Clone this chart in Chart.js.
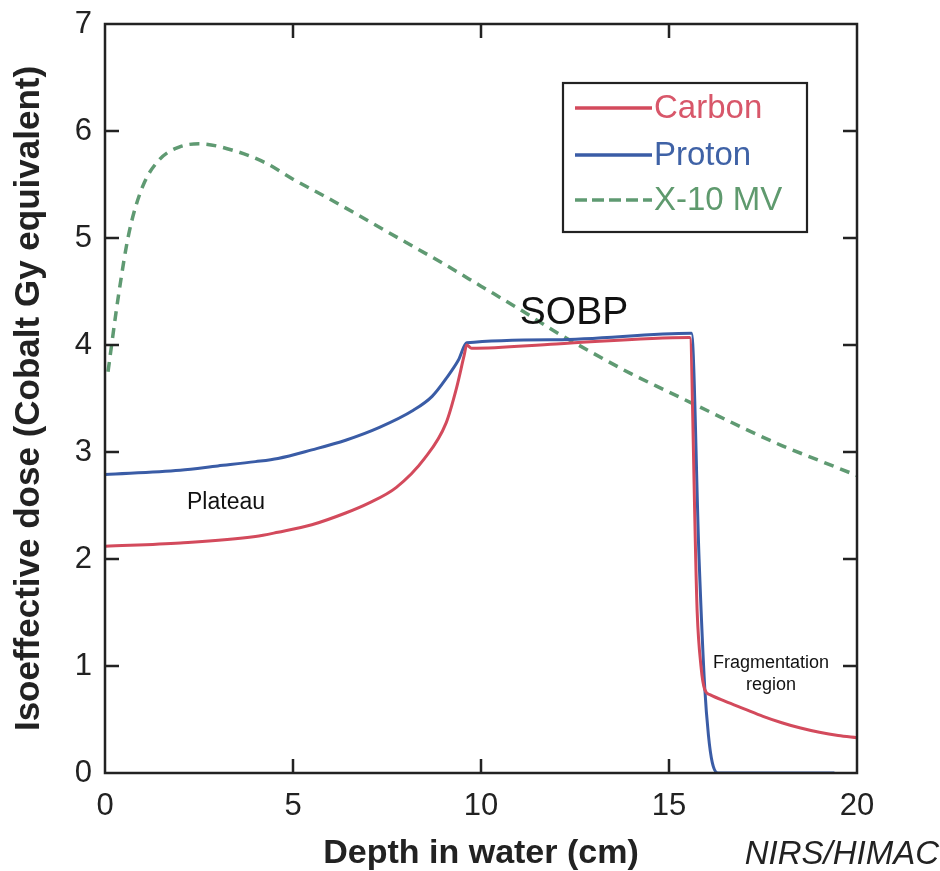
<!DOCTYPE html>
<html>
<head>
<meta charset="utf-8">
<script src="https://cdn.jsdelivr.net/npm/chart.js@4/dist/chart.umd.min.js"></script>
<style>
  html, body { margin: 0; padding: 0; background: #fff; }
  #wrap { width: 940px; height: 871px; position: relative; }
</style>
</head>
<body>
<div id="wrap"><canvas id="c" width="940" height="871"></canvas></div>
<script>
// Depth-dose profiles (depth in cm, dose in cobalt Gy equivalent)
const carbonDepth = [0, 2, 4, 4.6, 5.5, 6.4, 7, 7.75, 8.5, 9.07, 9.35, 9.55, 9.62, 9.75, 12, 15.55, 15.75, 15.85, 15.95, 16.1, 16.5, 17, 17.5, 18, 18.5, 19, 19.5, 20];
const carbonDose  = [2.12, 2.15, 2.21, 2.25, 2.32, 2.43, 2.52, 2.67, 2.94, 3.27, 3.6, 3.9, 4.0, 3.97, 4.01, 4.07, 1.5, 1.0, 0.78, 0.73, 0.67, 0.6, 0.53, 0.47, 0.42, 0.38, 0.35, 0.33];

const protonDepth = [0, 2, 3, 4, 4.6, 5.5, 6.4, 7.3, 8.2, 8.7, 9.1, 9.4, 9.62, 12, 15.6, 15.8, 15.95, 16.05, 16.15, 16.3, 19.4];
const protonDose  = [2.79, 2.83, 2.87, 2.91, 2.94, 3.02, 3.11, 3.23, 3.39, 3.52, 3.7, 3.86, 4.02, 4.05, 4.11, 2.0, 0.8, 0.35, 0.1, 0.0, 0.0];

const xrayDepth = [0.08, 0.37, 0.64, 1.0, 1.44, 1.97, 2.5, 3.4, 4.28, 5, 6, 7, 8, 9, 10, 11, 12, 13, 14, 15, 16, 17, 18, 19, 20];
const xrayDose  = [3.75, 4.49, 5.05, 5.48, 5.73, 5.85, 5.88, 5.82, 5.7, 5.55, 5.36, 5.16, 4.96, 4.76, 4.55, 4.34, 4.12, 3.92, 3.73, 3.56, 3.39, 3.22, 3.06, 2.92, 2.78];

const seriesNames = ['Carbon', 'Proton', 'X-10 MV'];
const xTicks = [0, 5, 10, 15, 20];
const yTicks = [0, 1, 2, 3, 4, 5, 6, 7];

const pts = (xs, ys) => xs.map((x, i) => ({ x, y: ys[i] }));

const FONT = '"Liberation Sans", Arial, Helvetica, sans-serif';
const INK = '#222';

// Frame, inward ticks, legend box and annotations
const decor = {
  id: 'decor',
  afterDatasetsDraw(chart) {
    const { ctx, chartArea: a, scales: { x, y } } = chart;
    ctx.save();
    ctx.strokeStyle = INK;
    ctx.lineWidth = 2.5;
    ctx.strokeRect(a.left, a.top, a.right - a.left, a.bottom - a.top);
    const len = 14;
    ctx.beginPath();
    xTicks.slice(1, -1).forEach(v => {
      const px = x.getPixelForValue(v);
      ctx.moveTo(px, a.bottom); ctx.lineTo(px, a.bottom - len);
      ctx.moveTo(px, a.top); ctx.lineTo(px, a.top + len);
    });
    yTicks.slice(1, -1).forEach(v => {
      const py = y.getPixelForValue(v);
      ctx.moveTo(a.left, py); ctx.lineTo(a.left + len, py);
      ctx.moveTo(a.right, py); ctx.lineTo(a.right - len, py);
    });
    ctx.stroke();

    // legend
    const lx = 563, ly = 83, lw = 244, lh = 149;
    ctx.fillStyle = '#fff';
    ctx.fillRect(lx, ly, lw, lh);
    ctx.lineWidth = 2.2;
    ctx.strokeStyle = INK;
    ctx.strokeRect(lx, ly, lw, lh);
    const rows = [108, 155, 200];
    chart.data.datasets.forEach((ds, i) => {
      const ry = rows[i];
      ctx.beginPath();
      ctx.strokeStyle = ds.borderColor;
      ctx.lineWidth = 3.5;
      ctx.setLineDash(ds.borderDash && ds.borderDash.length ? [12, 5] : []);
      ctx.moveTo(575, ry); ctx.lineTo(652, ry);
      ctx.stroke();
      ctx.setLineDash([]);
      ctx.fillStyle = ds.labelColor;
      ctx.font = '33px ' + FONT;
      ctx.textAlign = 'left';
      ctx.textBaseline = 'middle';
      ctx.fillText(ds.label, 654, ry + 1);
    });

    // annotations
    ctx.fillStyle = '#111';
    ctx.textAlign = 'center';
    ctx.textBaseline = 'middle';
    ctx.font = '39px ' + FONT;
    ctx.fillText('SOBP', 574, 313);
    ctx.font = '23px ' + FONT;
    ctx.fillText('Plateau', 226, 503);
    ctx.font = '18px ' + FONT;
    ctx.fillText('Fragmentation', 771, 663);
    ctx.fillText('region', 771, 685);
    ctx.font = 'italic 33px ' + FONT;
    ctx.textAlign = 'right';
    ctx.fillStyle = '#222';
    ctx.fillText('NIRS/HIMAC', 939, 855);
    ctx.restore();
  }
};

new Chart(document.getElementById('c'), {
  type: 'line',
  data: {
    datasets: [
      { label: seriesNames[0], data: pts(carbonDepth, carbonDose), borderColor: '#d34a5c', labelColor: '#d8576a', borderWidth: 3, cubicInterpolationMode: 'monotone' },
      { label: seriesNames[1], data: pts(protonDepth, protonDose), borderColor: '#3a5ca6', labelColor: '#3f62a6', borderWidth: 3, cubicInterpolationMode: 'monotone' },
      { label: seriesNames[2], data: pts(xrayDepth, xrayDose), borderColor: '#5f9a72', labelColor: '#5f9a6e', borderWidth: 3.5, borderDash: [10, 7], cubicInterpolationMode: 'monotone' }
    ]
  },
  options: {
    responsive: false,
    animation: false,
    layout: { padding: { top: 24, right: 83, left: 0, bottom: 0 } },
    elements: { point: { radius: 0 } },
    plugins: { legend: { display: false }, tooltip: { enabled: false } },
    scales: {
      x: {
        type: 'linear', min: 0, max: 20,
        afterBuildTicks: s => { s.ticks = xTicks.map(v => ({ value: v })); },
        grid: { display: false, drawTicks: false },
        border: { display: false },
        ticks: { color: INK, font: { family: FONT, size: 31 }, padding: 15 },
        title: { display: true, text: 'Depth in water (cm)', color: INK, font: { family: FONT, size: 34, weight: 'bold', lineHeight: 1.0 }, padding: { top: 22, bottom: 0 } },
        afterFit: s => { s.height = 98; s.paddingLeft = 0; s.paddingRight = 0; }
      },
      y: {
        type: 'linear', min: 0, max: 7,
        afterBuildTicks: s => { s.ticks = yTicks.map(v => ({ value: v })); },
        grid: { display: false, drawTicks: false },
        border: { display: false },
        ticks: { color: INK, font: { family: FONT, size: 31 }, padding: 13 },
        title: { display: true, text: 'Isoeffective dose (Cobalt Gy equivalent)', color: INK, font: { family: FONT, size: 35, weight: 'bold' }, padding: { top: 8, bottom: 0 } },
        afterFit: s => { s.width = 105; s.paddingTop = 0; s.paddingBottom = 0; }
      }
    }
  },
  plugins: [decor]
});
</script>
</body>
</html>
